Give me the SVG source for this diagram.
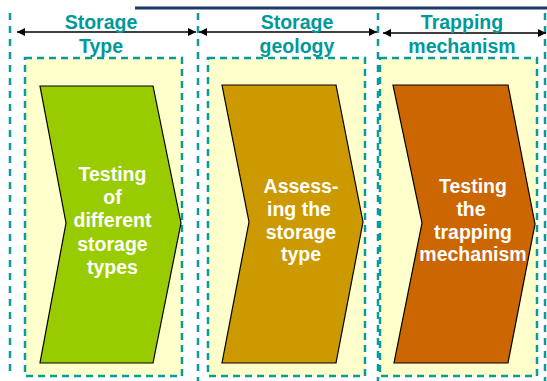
<svg xmlns="http://www.w3.org/2000/svg" width="547" height="381" viewBox="0 0 547 381">
<style>
.outer{stroke:#0b9a9a;stroke-width:2.5;stroke-dasharray:7 6;fill:none}
.box{fill:#ffffcc;stroke:#0b9a9a;stroke-width:2.5;stroke-dasharray:7 5}
.chev{stroke:#000;stroke-width:1.2}
.hdr{font-family:"Liberation Sans",Arial,sans-serif;font-weight:bold;font-size:19.5px;fill:#009999;text-anchor:middle}
.lbl{font-family:"Liberation Sans",Arial,sans-serif;font-weight:bold;font-size:19.5px;fill:#ffffff;text-anchor:middle}
.arr{stroke:#000;stroke-width:1.6;fill:none;marker-start:url(#ah);marker-end:url(#ah)}
</style>
<defs>
<marker id="ah" viewBox="0 0 10 10" refX="10" refY="5" markerWidth="9" markerHeight="8" markerUnits="userSpaceOnUse" orient="auto-start-reverse">
<path d="M0,0 L10,5 L0,10 z" fill="#000"/>
</marker>
</defs>
<rect width="547" height="381" fill="#ffffff"/>
<line x1="135" y1="8" x2="547" y2="8" stroke="#1a3a6a" stroke-width="3"/>
<g id="guides">
<line class="outer" x1="10" y1="13" x2="10" y2="375"/>
<line class="outer" x1="198" y1="13" x2="198" y2="381"/>
<line class="outer" x1="378" y1="13" x2="378" y2="381"/>
<line class="outer" x1="545" y1="13" x2="545" y2="381"/>
</g>
<g id="connectors">
<line class="arr" x1="17" y1="32" x2="196" y2="32"/>
<line class="arr" x1="199" y1="32" x2="377" y2="32"/>
<line class="arr" x1="383" y1="33" x2="546" y2="33"/>
</g>
<g id="header1"><text class="hdr" x="101" y="29">Storage</text><text class="hdr" x="101" y="53">Type</text></g>
<g id="header2"><text class="hdr" x="297" y="29">Storage</text><text class="hdr" x="297" y="53">geology</text></g>
<g id="header3"><text class="hdr" x="462" y="29">Trapping</text><text class="hdr" x="462" y="53">mechanism</text></g>
<g id="stage1">
<rect class="box" x="25" y="58" width="157" height="318"/>
<path class="chev" fill="#99cc00" d="M40,86 L153,86 L181,223 L153,363 L40,363 L66,223 Z"/>
<text class="lbl" x="112.5" y="181">Testing</text>
<text class="lbl" x="112.5" y="204">of</text>
<text class="lbl" x="112.5" y="227">different</text>
<text class="lbl" x="112.5" y="250.5">storage</text>
<text class="lbl" x="112.5" y="273.5">types</text>
</g>
<g id="stage2">
<rect class="box" x="208" y="58" width="157" height="318"/>
<path class="chev" fill="#cc9900" d="M222,85 L336,85 L363,222 L336,363 L222,363 L249,222 Z"/>
<text class="lbl" x="301" y="193">Assess-</text>
<text class="lbl" x="299" y="215.5">ing the</text>
<text class="lbl" x="301" y="238.5">storage</text>
<text class="lbl" x="301" y="261">type</text>
</g>
<g id="stage3">
<rect class="box" x="380" y="58" width="157" height="318"/>
<path class="chev" fill="#cc6600" d="M393,85 L508,85 L535,224 L508,363 L394,363 L422,223 Z"/>
<text class="lbl" x="473" y="193">Testing</text>
<text class="lbl" x="471" y="215.5">the</text>
<text class="lbl" x="473" y="238.5">trapping</text>
<text class="lbl" x="473" y="261">mechanism</text>
</g>
</svg>
